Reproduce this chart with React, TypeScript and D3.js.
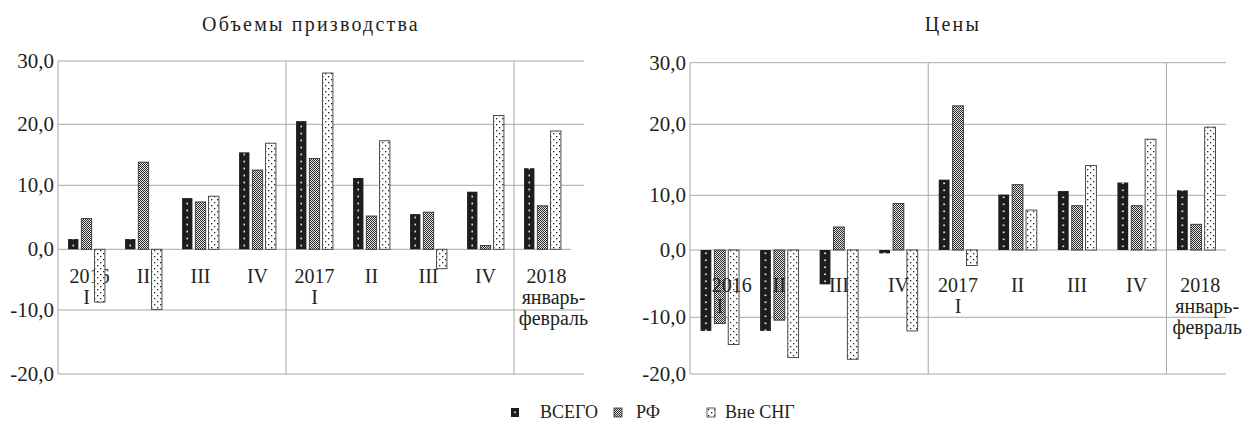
import React from "react";
import * as d3 from "d3";

// категории (кварталы) — строки подписи через \n
const quarters = ["2016\nI", "II", "III", "IV", "2017\nI", "II", "III", "IV", "2018\nянварь-\nфевраль"];
const seriesNames = ["ВСЕГО", "РФ", "Вне СНГ"];
const yTicks = [-20, -10, 0, 10, 20, 30];

// Объемы производства
const volTotal = [1.6, 1.6, 8.0, 15.4, 20.5, 11.2, 5.5, 9.0, 12.8];
const volRF = [4.8, 13.8, 7.4, 12.5, 14.4, 5.2, 5.8, 0.6, 6.8];
const volOutside = [-8.7, -9.9, 8.3, 16.9, 28.1, 17.3, -3.2, 21.4, 18.9];

// Цены
const priceTotal = [-12.4, -12.4, -5.1, -0.5, 12.2, 10.1, 10.6, 11.8, 10.7];
const priceRF = [-11.1, -10.5, 4.2, 8.5, 23.0, 11.5, 8.1, 8.1, 4.7];
const priceOutside = [-14.8, -17.1, -17.4, -12.4, -2.3, 7.3, 14.2, 17.9, 19.6];

const serif = { fontFamily: "Liberation Serif, Tinos, Times New Roman, DejaVu Serif, serif" };
const INK = "#231f20";
const GRID = "#a8a8a8";

const fmt = (v: number) => d3.format(".1f")(v).replace(".", ",").replace("−", "-");

type PanelProps = {
  id: string;
  title: string;
  titleX: number;
  x0: number;
  x1: number;
  gridEnd: number;
  yRange: number[];
  data: number[][];
  labelBase: number;
  labelsOnTop: boolean;
  firstShift: number;
};

const Panel = ({ id, title, titleX, x0, x1, gridEnd, yRange, data, labelBase, labelsOnTop, firstShift }: PanelProps) => {
  const x = d3.scaleBand<string>().domain(quarters.map((_, i) => String(i))).range([x0, x1]);
  const inner = d3
    .scaleBand<string>()
    .domain(seriesNames)
    .range([0, x.step()])
    .paddingInner(0.22)
    .paddingOuter(0.76);
  // шкала в исходнике неравномерная — повторяем её кусочно-линейно
  const y = d3.scaleLinear().domain(yTicks).range(yRange);
  const top = y(30);
  const bottom = y(-20);
  const zero = y(0);
  const bw = inner.bandwidth();
  const dotX = (inner(seriesNames[0]) ?? 0) + bw / 2;

  const fills = [`url(#${id}-blk)`, `url(#${id}-chk)`, `url(#${id}-dot)`];
  const strokes = ["none", "#333", "#3a3a3a"];

  const labels = (
    <g style={serif} fontSize={20} fill={INK} textAnchor="middle">
      {quarters.map((q, i) => {
        const cx = (x(String(i)) ?? 0) + x.bandwidth() / 2;
        const is18 = q.startsWith("2018");
        return q.split("\n").map((line, k) => {
          let dx = 0;
          if (is18) dx = k === 0 ? 4 : 11;
          if (i === 0 && k === 0) dx = firstShift;
          return (
            <text key={`${i}-${k}`} x={cx + dx} y={labelBase + k * 21}>
              {line}
            </text>
          );
        });
      })}
    </g>
  );

  return (
    <g>
      <defs>
        <pattern id={`${id}-blk`} patternUnits="userSpaceOnUse" x={x0} y={zero} width={x.step()} height={7}>
          <rect width={x.step()} height={7} fill="#1d1d1d" />
          <rect x={dotX - 0.8} y={2.5} width={1.6} height={1.6} fill="#fff" />
        </pattern>
        <pattern id={`${id}-chk`} patternUnits="userSpaceOnUse" width={2} height={2}>
          <rect width={2} height={2} fill="#e6e6e6" />
          <rect width={1} height={1} fill="#2a2a2a" />
          <rect x={1} y={1} width={1} height={1} fill="#2a2a2a" />
        </pattern>
        <pattern id={`${id}-dot`} patternUnits="userSpaceOnUse" width={6} height={6}>
          <rect width={6} height={6} fill="#fff" />
          <rect x={1} y={1} width={1.3} height={1.3} fill="#222" />
          <rect x={4} y={4} width={1.3} height={1.3} fill="#222" />
        </pattern>
      </defs>

      <text x={titleX} y={31} style={serif} fontSize={20} fill={INK} textAnchor="middle" letterSpacing={2.2}>
        {title}
      </text>

      {/* сетка */}
      {yTicks.map((t) => (
        <line key={t} x1={x0} x2={t === 0 ? x1 : gridEnd} y1={y(t)} y2={y(t)} stroke={GRID} strokeWidth={1} />
      ))}
      <line x1={x0} x2={x0} y1={top} y2={bottom} stroke={GRID} />
      {[4, 8].map((i) => (
        <line key={i} x1={x(String(i))} x2={x(String(i))} y1={top} y2={bottom} stroke={GRID} />
      ))}

      {yTicks.map((t) => (
        <text key={t} x={x0 - 4} y={y(t) + 7} style={serif} fontSize={21} fill={INK} textAnchor="end">
          {fmt(t)}
        </text>
      ))}

      {!labelsOnTop && labels}

      {data.map((vals, j) =>
        vals.map((v, i) => (
          <rect
            key={`${j}-${i}`}
            x={(x(String(i)) ?? 0) + (inner(seriesNames[j]) ?? 0)}
            y={Math.min(y(v), zero)}
            width={bw}
            height={Math.abs(y(v) - zero)}
            fill={fills[j]}
            stroke={strokes[j]}
            strokeWidth={0.9}
          />
        ))
      )}

      {labelsOnTop && labels}
    </g>
  );
};

const App = () => {
  const legendX = [511, 614, 707];
  return (
    <svg width={1255} height={421} style={{ position: "absolute", left: 0, top: 0, background: "#fff" }}>
      <rect width={1255} height={421} fill="#fff" />
      <Panel
        id="vol"
        title="Объемы  призводства"
        titleX={311}
        x0={58}
        x1={571}
        gridEnd={584}
        yRange={[374, 310, 249.3, 185.3, 124.3, 61]}
        data={[volTotal, volRF, volOutside]}
        labelBase={283}
        labelsOnTop={false}
        firstShift={3}
      />
      <Panel
        id="prc"
        title="Цены"
        titleX={953}
        x0={690}
        x1={1226}
        gridEnd={1226}
        yRange={[374, 317.3, 250, 195.3, 124.3, 62.7]}
        data={[priceTotal, priceRF, priceOutside]}
        labelBase={292}
        labelsOnTop={true}
        firstShift={12}
      />

      {/* легенда */}
      <g style={serif} fontSize={18} fill={INK}>
        {seriesNames.map((name, j) => (
          <g key={name} transform={`translate(${legendX[j]},408)`}>
            {j === 0 && (
              <>
                <rect width={8} height={9} fill="#1d1d1d" />
                <rect x={3.2} y={3.5} width={1.6} height={1.6} fill="#fff" />
              </>
            )}
            {j === 1 && <rect width={8} height={9} fill="url(#vol-chk)" stroke="#333" strokeWidth={0.8} />}
            {j === 2 && <rect width={8} height={9} fill="url(#vol-dot)" stroke="#333" strokeWidth={0.8} />}
            <text x={j === 0 ? 29 : j === 1 ? 22 : 18} y={10}>
              {name}
            </text>
          </g>
        ))}
      </g>
    </svg>
  );
};

export default App;
